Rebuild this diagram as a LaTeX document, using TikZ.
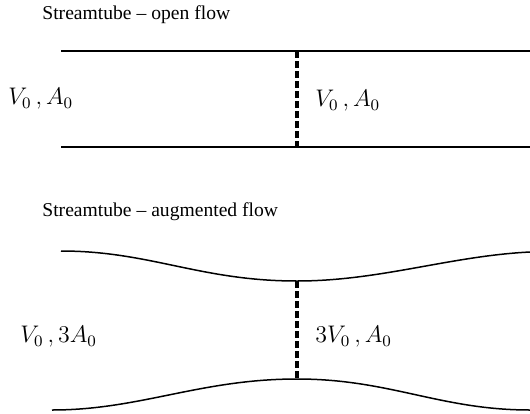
\documentclass[tikz,border=0pt]{standalone}
\usepackage{fontspec}
\setmainfont{Liberation Serif}
\usepackage{tikz}
\usetikzlibrary{positioning}

\tikzset{
  wall/.style={line width=0.75pt, black},
  throat/.style={line width=1.9pt, black, dash pattern=on 3.5pt off 1.5pt},
  title/.style={anchor=west, inner sep=0pt, font=\fontsize{9.8}{12}\selectfont},
  state/.style={anchor=west, inner sep=0pt, font=\large}
}

\begin{document}
\begin{tikzpicture}[x=0.5pt, y=-0.5pt]
        \useasboundingbox (0,0) rectangle (530,413);

        % Open flow streamtube
        \node[title] (opentitle) at (42,15) {Streamtube -- open flow};
        \coordinate (otl) at (61,51);
        \coordinate (otr) at (530,51);
        \coordinate (obl) at (61,147);
        \coordinate (obr) at (530,147);
        \coordinate (otop) at (297,51);
        \coordinate (obot) at (297,147);
        \draw[wall] (otl) -- (otr);
        \draw[wall] (obl) -- (obr);
        \draw[throat] (otop) -- (obot);
        \node[state] (openin) at (8,99) {$V_0\,,A_0$};
        \node[state] (openout) at (315,101) {$V_0\,,A_0$};

        % Augmented flow streamtube
        \node[title] (augtitle) at (42,212) {Streamtube -- augmented flow};
        \coordinate (atop) at (297,281);
        \coordinate (abot) at (297,379);
        \draw[wall] (61,251) .. controls (150,251) and (200,281) .. (atop)
                    .. controls (380,281) and (450,256) .. (530,252);
        \draw[wall] (52,410) .. controls (140,410) and (200,379) .. (abot)
                    .. controls (390,379) and (440,410) .. (530,410);
        \draw[throat] (atop) -- (abot);
        \node[state] (augin) at (20,337) {$V_0\,,3A_0$};
        \node[state] (augout) at (315,337) {$3V_0\,,A_0$};
\end{tikzpicture}
\end{document}
